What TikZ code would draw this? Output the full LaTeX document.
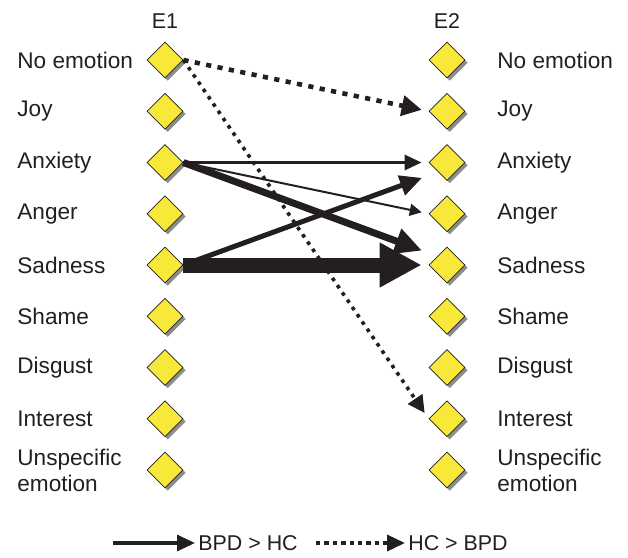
\documentclass[tikz,border=0pt]{standalone}
\usepackage{fontspec}
\setmainfont{Liberation Sans}
\usepackage{tikz}
\usetikzlibrary{shapes.geometric,arrows.meta,calc,shadows}
\usepackage{xcolor}
\definecolor{ink}{HTML}{231F20}
\definecolor{emoyellow}{HTML}{F7E83A}

\begin{document}
\begin{tikzpicture}[x=0.5pt,y=-0.5pt,
	  every node/.style={text=ink,font=\fontsize{11.3}{13}\selectfont},
	  emo/.style={diamond,aspect=1,minimum width=18pt,minimum height=18pt,inner sep=0pt,
	    draw=ink,line width=0.4pt,fill=emoyellow,
	    drop shadow={shadow xshift=1.4pt,shadow yshift=-1.4pt,fill=black!45,opacity=1}},
	  lab/.style={anchor=west,align=left,inner sep=0pt},
	  head/.style={inner sep=0pt,font=\fontsize{10.7}{13}\selectfont},
	  bpd/.style={draw=ink,shorten >=3.5pt},
	  hc/.style={draw=ink,shorten >=3.5pt}]

	  \useasboundingbox (0,0) rectangle (628,558);

	  % column heads
	  \node[head] (e1head) at (165,21) {E1};
	  \node[head] (e2head) at (447,21) {E2};

	  % emotions at both time points
	  \foreach \lab [count=\i, evaluate=\i as \ry using 60+51.25*(\i-1)] in
	    {No emotion,Joy,Anxiety,Anger,Sadness,Shame,Disgust,Interest,{Unspecific\\emotion}}{
	    \node[lab] (l1-\i) at (17,\ry) {\lab};
	    \node[emo] (e1-\i) at (165,\ry) {};
	    \node[emo] (e2-\i) at (447,\ry) {};
	    \node[lab] (l2-\i) at (497,\ry) {\lab};
	  }

	  % BPD > HC
	  \draw[bpd,line width=1pt,-{Triangle[length=6pt,width=6pt]}] (e1-3.east) -- (e2-4.west);
	  \draw[bpd,line width=1.6pt,-{Triangle[length=8.5pt,width=7.5pt]}] (e1-3.east) -- (e2-3.west);
	  \draw[bpd,line width=3.5pt,-{Triangle[length=13.5pt,width=12.5pt]}] (e1-3.east) -- ($(e2-5.west)+(0,-12)$);
	  \draw[bpd,line width=2.5pt,-{Triangle[length=11pt,width=10pt]}] (e1-5.east) -- ($(e2-3.west)+(0,13)$);
	  \draw[bpd,line width=7.5pt,-{Triangle[length=21pt,width=21pt]}] (e1-5.east) -- (e2-5.west);

	  % HC > BPD
	  \draw[hc,line width=2.3pt,dash pattern=on 2.6pt off 3.2pt,-{Triangle[length=10pt,width=10pt]}] (e1-1.east) -- (e2-2.west);
	  \draw[hc,line width=1.8pt,dash pattern=on 1.8pt off 2.6pt,-{Triangle[length=8.5pt,width=8.5pt]}] (e1-1.east) -- (e2-8.west);

	  % legend
	  \coordinate (bpdstart) at (113,543);
	  \node[head,anchor=west] (bpdtxt) at (198,543) {BPD > HC};
	  \coordinate (hcstart) at (316,543);
	  \node[head,anchor=west] (hctxt) at (408,543) {HC > BPD};
	  \draw[draw=ink,line width=1.6pt,shorten >=1.5pt,-{Triangle[length=9pt,width=8pt]}] (bpdstart) -- (bpdtxt.west);
	  \draw[draw=ink,line width=1.8pt,shorten >=1.5pt,dash pattern=on 2.2pt off 2pt,-{Triangle[length=9pt,width=8pt]}] (hcstart) -- (hctxt.west);

\end{tikzpicture}
\end{document}
